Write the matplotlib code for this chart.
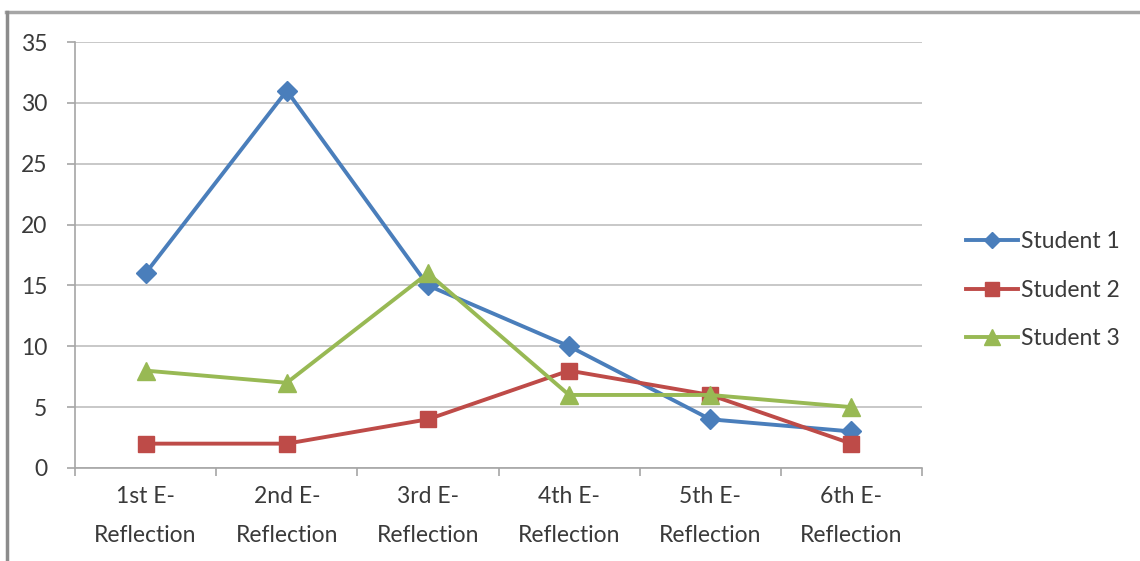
import matplotlib.pyplot as plt
from matplotlib.lines import Line2D

plt.rcParams['font.family'] = ['Lato', 'DejaVu Sans']

categories = ["1st E-\nReflection", "2nd E-\nReflection", "3rd E-\nReflection",
              "4th E-\nReflection", "5th E-\nReflection", "6th E-\nReflection"]
student1 = [16, 31, 15, 10, 4, 3]
student2 = [2, 2, 4, 8, 6, 2]
student3 = [8, 7, 16, 6, 6, 5]
series_names = ["Student 1", "Student 2", "Student 3"]

colors = ["#4A7EBB", "#BE4B48", "#98B954"]
markers = ["D", "s", "^"]
msizes = [10, 12, 13]

fig = plt.figure(figsize=(11.4, 5.61), dpi=100)
ax = fig.add_axes([0.0658, 0.1658, 0.7430, 0.7593])

x = range(len(categories))
for vals, c, m, ms, name in zip([student1, student2, student3], colors, markers, msizes, series_names):
    ax.plot(x, vals, color=c, lw=2.8, marker=m, markersize=ms,
            markeredgecolor=c, label=name, zorder=3, clip_on=False)

ax.set_xlim(-0.5, len(categories) - 0.5)
ax.set_ylim(0, 35)
ax.set_yticks(range(0, 36, 5))
ax.set_xticks(list(x))
ax.set_xticklabels(categories, fontsize=16.5, color="#3A3A3A", linespacing=2.05)
ax.tick_params(axis='x', length=0, pad=13)
ax.set_xticks([i - 0.5 for i in range(len(categories) + 1)], minor=True)
ax.tick_params(axis='x', which='minor', length=6, color="#A6A6A6", width=1.2)
ax.tick_params(axis='y', length=6, color="#A6A6A6", width=1.2, labelsize=16.5,
               labelcolor="#3A3A3A", pad=14)

ax.grid(axis='y', color="#BFBFBF", lw=1.2, zorder=0)
for s in ['top', 'right']:
    ax.spines[s].set_visible(False)
for s in ['left', 'bottom']:
    ax.spines[s].set_color("#A6A6A6")
    ax.spines[s].set_linewidth(1.2)

handles = [Line2D([], [], color=c, lw=2.8, marker=m, markersize=ms * 0.85, markeredgecolor=c)
           for c, m, ms in zip(colors, markers, msizes)]
fig.legend(handles, series_names, loc='center left', bbox_to_anchor=(0.829, 0.483),
           frameon=False, fontsize=16.5, handlelength=2.3, handletextpad=0.1,
           labelspacing=1.2, labelcolor="#3A3A3A")

# outer chart border (top and left edges)
fig.add_artist(Line2D([0.005, 1.0], [0.978, 0.978], color="#A6A6A6", lw=2.5,
                      transform=fig.transFigure))
fig.add_artist(Line2D([0.006, 0.006], [0.0, 0.978], color="#8C8C8C", lw=2.5,
                      transform=fig.transFigure))

fig.savefig("out.png", dpi=100)
